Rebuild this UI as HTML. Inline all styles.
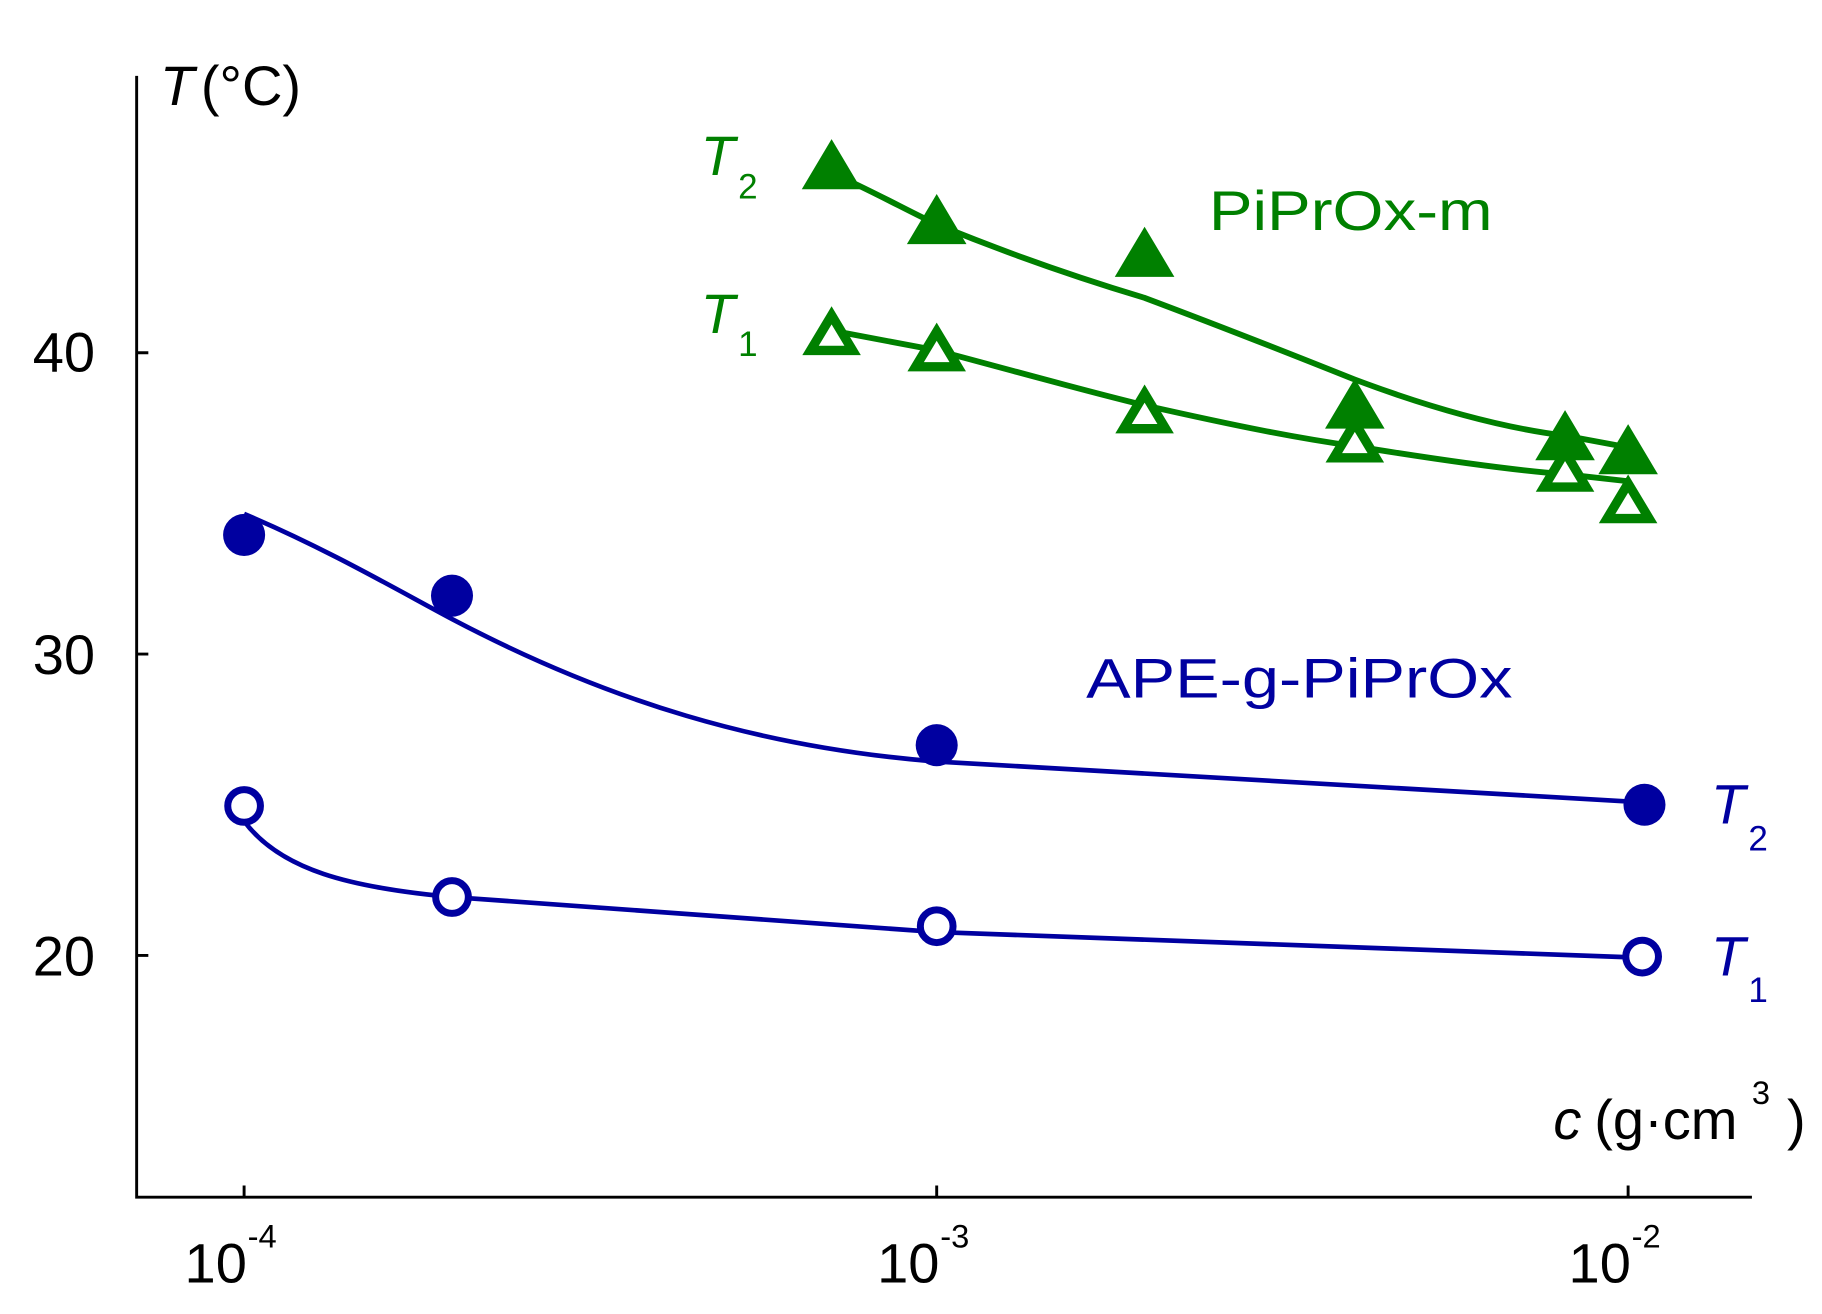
<!DOCTYPE html>
<html><head><style>html,body{margin:0;padding:0;background:#fff}svg{display:block}</style></head>
<body>
<svg width="1822" height="1314" viewBox="0 0 1560 1125" preserveAspectRatio="none" xmlns="http://www.w3.org/2000/svg" font-family="Liberation Sans, sans-serif">
<rect width="1560" height="1125" fill="#fff"/>
<g stroke="#000" stroke-width="2.5" fill="none">
<path d="M117,65 V1025 H1500"/>
<path d="M117,302 h10 M117,560 h10 M117,818 h10"/>
<path d="M209,1025 v-10 M802,1025 v-10 M1394,1025 v-10"/>
</g>
<g font-size="48" fill="#000">
<text x="28" y="318">40</text><text x="28" y="577">30</text><text x="28" y="835">20</text>
<text x="158" y="1098">10</text><text x="212" y="1068" font-size="28">-4</text>
<text x="751" y="1098">10</text><text x="805" y="1068" font-size="28">-3</text>
<text x="1343" y="1098">10</text><text x="1397" y="1068" font-size="28">-2</text>
<text x="137" y="90" font-style="italic">T</text><text x="172" y="90">(°C)</text>
<text x="1330" y="975" font-style="italic">c</text><text x="1365" y="975">(g·cm</text><text x="1500" y="945" font-size="28">3</text><text x="1530" y="975">)</text>
</g>
<!-- green -->
<g stroke="#008000" stroke-width="5" fill="none">
<path d="M712,148 C750,165 780,182 802,192 C870,220 930,240 980,255 C1060,285 1110,305 1160,325 C1240,355 1300,368 1340,373 L1394,383"/>
<path d="M712,283 L802,300 C870,318 930,335 980,347 C1060,365 1110,375 1160,382 C1240,395 1300,403 1340,406 L1394,412"/>
</g>
<g fill="#008000" stroke="#008000" stroke-width="4">
<path d="M712,123 l-22,37 h44z"/><path d="M802,170 l-22,37 h44z"/><path d="M980,198 l-22,37 h44z"/>
<path d="M1160,328 l-22,37 h44z"/><path d="M1340,355 l-22,37 h44z"/><path d="M1394,367 l-22,37 h44z"/>
</g>
<g fill="#fff" stroke="#008000" stroke-width="8" stroke-linejoin="miter">
<path d="M712,270 l-18,30 h36z"/><path d="M802,284 l-18,30 h36z"/><path d="M980,337 l-18,30 h36z"/>
<path d="M1160,362 l-18,30 h36z"/><path d="M1340,387 l-18,30 h36z"/><path d="M1394,414 l-18,30 h36z"/>
</g>
<g fill="#008000" font-size="48">
<text x="1035" y="197" textLength="243" lengthAdjust="spacingAndGlyphs">PiPrOx-m</text>
<text x="600" y="150" font-style="italic">T</text><text x="632" y="170" font-size="30">2</text>
<text x="600" y="285" font-style="italic">T</text><text x="632" y="305" font-size="30">1</text>
</g>
<!-- blue -->
<g stroke="#0000a0" stroke-width="4" fill="none">
<path d="M209,440 C280,470 340,505 387,530 C520,600 650,640 802,652 L1408,687"/>
<path d="M209,703 C240,745 300,760 387,768 L802,798 L1406,820"/>
</g>
<g fill="#0000a0">
<circle cx="209" cy="458" r="18"/><circle cx="387" cy="510" r="18"/><circle cx="802" cy="638" r="18"/><circle cx="1408" cy="689" r="18"/>
</g>
<g fill="#fff" stroke="#0000a0" stroke-width="6">
<circle cx="209" cy="690" r="14"/><circle cx="387" cy="768" r="14"/><circle cx="802" cy="793" r="14"/><circle cx="1406" cy="819" r="14"/>
</g>
<g fill="#0000a0" font-size="48">
<text x="930" y="597" textLength="365" lengthAdjust="spacingAndGlyphs">APE-g-PiPrOx</text>
<text x="1465" y="705" font-style="italic">T</text><text x="1497" y="728" font-size="30">2</text>
<text x="1465" y="835" font-style="italic">T</text><text x="1497" y="858" font-size="30">1</text>
</g>
</svg>
</body></html>
